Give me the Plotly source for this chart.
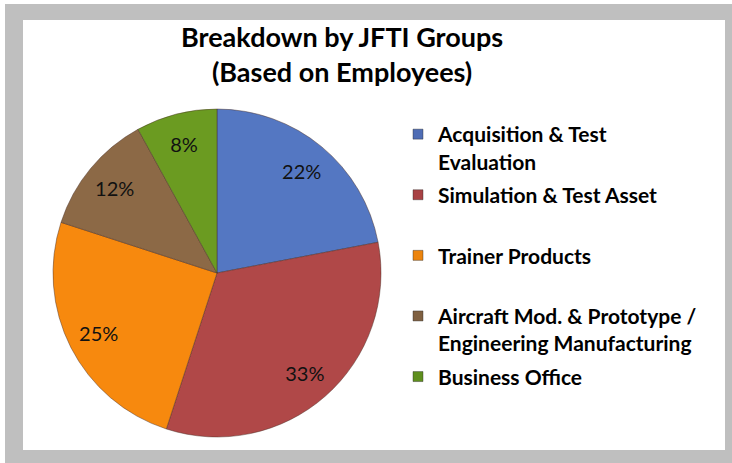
import plotly.graph_objects as go

W, H = 732, 463

categories = [
    "Acquisition & Test<br>Evaluation",
    "Simulation & Test Asset",
    "Trainer Products",
    "Aircraft Mod. & Prototype /<br>Engineering Manufacturing",
    "Business Office",
]
values = [22, 33, 25, 12, 8]
colors = ["#5477c2", "#b04848", "#f7890e", "#8c6946", "#6b9b21"]
legend_colors = ["#4f6db5", "#a84244", "#ec840d", "#7f6041", "#5f8f1e"]

FONT = "Lato, Carlito, sans-serif"

# pad single-line legend entries so every entry uses two lines
legend_names = [c if "<br>" in c else c + "<br> " for c in categories]

fig = go.Figure()

# main pie (colour fill)
fig.add_trace(go.Pie(
    labels=categories,
    values=values,
    sort=False,
    direction="clockwise",
    rotation=0,
    marker=dict(colors=colors, line=dict(color="rgba(70,45,35,0.45)", width=1)),
    textinfo="none",
    showlegend=False,
    domain=dict(x=[53 / W, 381 / W], y=[(H - 437) / H, (H - 109) / H]),
    hoverinfo="label+percent",
))

# transparent ring carrying the percentage labels out near the rim
fig.add_trace(go.Pie(
    labels=categories,
    values=values,
    sort=False,
    direction="clockwise",
    rotation=0,
    hole=0.62,
    marker=dict(colors=["rgba(0,0,0,0)"] * len(values), line=dict(width=0)),
    texttemplate="%{percent:.0%}",
    textposition="inside",
    insidetextorientation="horizontal",
    textfont=dict(family=FONT, size=20, color="#111111"),
    showlegend=False,
    domain=dict(x=[53 / W, 381 / W], y=[(H - 437) / H, (H - 109) / H]),
    hoverinfo="skip",
))

# legend entries
for i, (name, col) in enumerate(zip(legend_names, legend_colors)):
    fig.add_trace(go.Scatter(
        x=[None], y=[None], mode="markers", name=name,
        legendgroup=f"g{i}",
        marker=dict(symbol="square", size=10, color=col,
                    line=dict(color="rgba(40,40,40,0.4)", width=1)),
        hoverinfo="skip",
    ))

fig.update_layout(
    width=W, height=H,
    margin=dict(l=0, r=0, t=0, b=0),
    paper_bgcolor="white",
    plot_bgcolor="rgba(0,0,0,0)",
    xaxis=dict(visible=False),
    yaxis=dict(visible=False),
    legend=dict(
        x=398 / W, xanchor="left",
        y=1 - 114 / H, yanchor="top",
        valign="top",
        tracegroupgap=3,
        font=dict(family=FONT, size=21, color="#000000", weight="bold"),
        bgcolor="rgba(0,0,0,0)",
        itemclick=False,
    ),
    annotations=[
        dict(text="<b>Breakdown by JFTI Groups<br>(Based on Employees)</b>",
             x=342 / W, xref="paper", xanchor="center",
             y=1 - 54 / H, yref="paper", yanchor="middle",
             showarrow=False, align="center",
             font=dict(family=FONT, size=27, color="#000000")),
    ],
    shapes=[
        dict(type="rect", xref="paper", yref="paper", layer="below",
             x0=5 / W, x1=1, y0=0, y1=1 - 4 / H,
             fillcolor="#bfbfbf", line=dict(width=0)),
        dict(type="rect", xref="paper", yref="paper", layer="below",
             x0=23 / W, x1=725 / W, y0=1 - 450 / H, y1=1 - 20 / H,
             fillcolor="#ffffff", line=dict(width=0)),
    ],
)

fig.write_html("out.html", config={"displayModeBar": False},
               post_script="document.body.style.margin='0px';")
